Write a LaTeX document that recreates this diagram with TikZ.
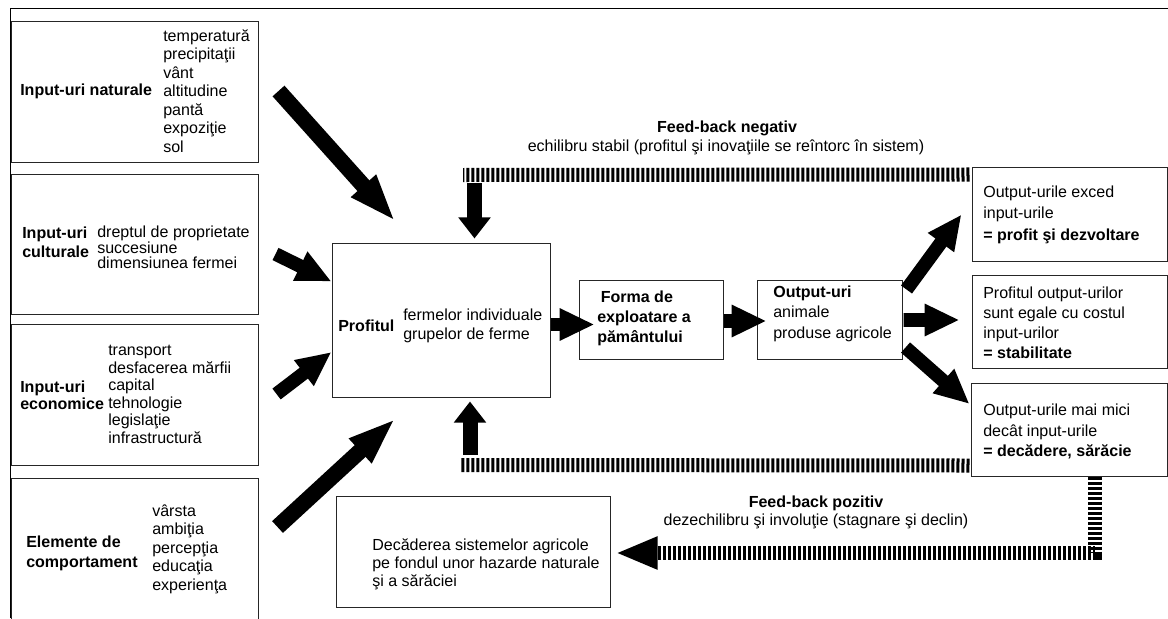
\documentclass[tikz,border=0pt]{standalone}
\usepackage{fontspec}
\setmainfont{Liberation Sans}
\usepackage{tikz}
\usetikzlibrary{arrows.meta}

\begin{document}
\begin{tikzpicture}
[x=0.025cm, y=-0.025cm,
 every node/.style={inner sep=0pt, anchor=center},
 box/.style={draw=black!85, line width=0.7pt},
 txt/.style={align=left, font=\fontsize{11.4}{#1}\selectfont}, txt/.default=14,
 lbl/.style={align=left, font=\fontsize{11.4}{#1}\selectfont\bfseries}, lbl/.default=14,
 bigarrow/.style={line width=0.4cm, -{Triangle[width=0.75cm,length=1.2cm]}},
 midarrow/.style={line width=0.34cm, -{Triangle[width=0.75cm,length=0.87cm]}},
 fbarrow/.style={line width=0.375cm, -{Triangle[width=0.775cm,length=0.525cm]}},
 fbline/.style={line width=0.35cm, dash pattern=on 0.075cm off 0.05cm}]
\useasboundingbox (0,0) rectangle (1168,618);
\clip (0,0) rectangle (1168,618);
\draw[line width=0.6pt] (10,618) -- (10,8) -- (1168,8);

% Define the input boxes
\node[box, minimum width=6.15cm, minimum height=3.5cm] (natural) at (135,92) {};
\node[lbl, anchor=west] (natural-l) at (20,91) {Input-uri naturale};
\node[txt=13.2, anchor=west] (natural-r) at (163,91) {temperatură\\precipitaţii\\vânt\\altitudine\\pantă\\expoziţie\\sol};

\node[box, minimum width=6.15cm, minimum height=3.475cm] (cultural) at (135,244.5) {};
\node[lbl=13.5, anchor=west] (cultural-l) at (22,242) {Input-uri\\culturale};
\node[txt=11, anchor=west] (cultural-r) at (97,247.5) {dreptul de proprietate\\succesiune\\dimensiunea fermei};

\node[box, minimum width=6.15cm, minimum height=3.5cm] (economic) at (135,395) {};
\node[lbl=11.9, anchor=west] (economic-l) at (20,395) {Input-uri\\economice};
\node[txt=12.45, anchor=west] (economic-r) at (108,394.5) {transport\\desfacerea mărfii\\capital\\tehnologie\\legislaţie\\infrastructură};

\node[box, minimum width=6.15cm, minimum height=3.65cm] (behaviour) at (135,552) {};
\node[lbl=14.2, anchor=west] (behaviour-l) at (26,553) {Elemente de\\comportament};
\node[txt=13.2, anchor=west] (behaviour-r) at (152,549) {vârsta\\ambiţia\\percepţia\\educaţia\\experienţa};

% Define the main chain
\node[box, minimum width=5.425cm, minimum height=3.825cm] (profit) at (441.5,320.5) {};
\node[lbl, anchor=west] (profit-l) at (338,326) {Profitul};
\node[txt=13.5, anchor=west] (profit-r) at (403,326) {fermelor individuale\\grupelor de ferme};

\node[box, minimum width=3.575cm, minimum height=1.975cm] (forma) at (651.5,319.5) {};
\node[lbl=14.2, anchor=west] (forma-t) at (597,318) {\hspace*{2.5pt}Forma de\\exploatare a\\pământului};

\node[box, minimum width=3.625cm, minimum height=1.975cm] (output) at (829.5,319.5) {};
\node[txt=14.6, anchor=west] (output-t) at (773,313.5) {\textbf{Output-uri}\\animale\\produse agricole};

% Define the results
\node[box, minimum width=4.85cm, minimum height=2.325cm] (gain) at (1070,214.5) {};
\node[txt=15.3, anchor=west] (gain-t) at (983,214.5) {Output-urile exced\\input-urile\\\textbf{= profit şi dezvoltare}};

\node[box, minimum width=4.85cm, minimum height=2.325cm] (stable) at (1070,321.5) {};
\node[txt=14.2, anchor=west] (stable-t) at (983,323) {Profitul output-urilor\\sunt egale cu costul\\input-urilor\\\textbf{= stabilitate}};

\node[box, minimum width=4.875cm, minimum height=2.325cm] (loss) at (1069.5,429.5) {};
\node[txt=14.6, anchor=west] (loss-t) at (983,431.5) {Output-urile mai mici\\decât input-urile\\\textbf{= decădere, sărăcie}};

\node[box, minimum width=6.825cm, minimum height=2.775cm] (decline) at (473.5,551.5) {};
\node[txt=12.8, anchor=west] (decline-t) at (372,564) {Decăderea sistemelor agricole\\pe fondul unor hazarde naturale\\şi a sărăciei};

% Feed-back labels
\node[lbl] (neg-l) at (727,128) {Feed-back negativ};
\node[txt] (neg-r) at (726,147) {echilibru stabil (profitul şi inovaţiile se reîntorc în sistem)};
\node[lbl] (pos-l) at (816,503) {Feed-back pozitiv};
\node[txt] (pos-r) at (816,521) {dezechilibru şi involuţie (stagnare şi declin)};

\coordinate (negend) at (463,175);
\coordinate (negturn) at (474.5,183);
\coordinate (posend) at (461,465);
\coordinate (posturn) at (470,455);

% Inputs into the profit
\draw[bigarrow] ([shift={(20,-1)}]natural.east) -- ([shift={(63,-22)}]profit.north west);
\draw[midarrow] ([shift={(17,9.5)}]cultural.east) -- ([shift={(-1,38)}]profit.north west);
\draw[midarrow] ([shift={(18,-1)}]economic.east) -- ([shift={(-1,31.5)}]profit.west);
\draw[bigarrow] ([shift={(19,-25)}]behaviour.east) -- ([shift={(63,21)}]profit.south west);

% Main chain and results
\draw[midarrow] ([shift={(0,4)}]profit.east) -- ([shift={(15,5)}]forma.west);
\draw[midarrow] ([shift={(0,1.5)}]forma.east) -- ([shift={(10,1.5)}]output.west);
\draw[midarrow] ([shift={(4,10)}]output.north east) -- ([shift={(-11,0)}]gain.west);
\draw[midarrow] ([shift={(1,0.5)}]output.east) -- ([shift={(-13,-1.5)}]stable.west);
\draw[midarrow] ([shift={(3,-12)}]output.south east) -- ([shift={(-2,-25.5)}]loss.west);

% Feed-back loops
\draw[fbline] ([shift={(-3,7)}]gain.north west) -- (negend);
\draw[fbarrow, shorten >=0.125cm] (negturn) -- (negturn |- profit.north);
\draw[fbline] ([shift={(-2,-11)}]loss.south west) -- (posend);
\draw[fbarrow, shorten >=0.1cm] (posturn) -- (posturn |- profit.south);
\draw[fbline, -{Triangle[width=0.75cm,length=1.05cm]}] ([shift={(25.5,0)}]loss.south) |- ([shift={(5,1.5)}]decline.east);
\end{tikzpicture}
\end{document}
